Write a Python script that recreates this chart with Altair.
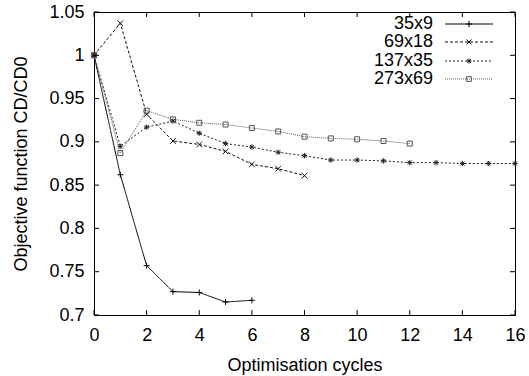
import altair as alt
import pandas as pd

FONT = "Liberation Sans"
FS = 18

series_names = ["35x9", "69x18", "137x35", "273x69"]

cycles_35x9 = [0, 1, 2, 3, 4, 5, 6]
cd_35x9 = [1.0, 0.862, 0.757, 0.727, 0.726, 0.715, 0.717]

cycles_69x18 = [0, 1, 2, 3, 4, 5, 6, 7, 8]
cd_69x18 = [1.0, 1.037, 0.932, 0.901, 0.897, 0.889, 0.874, 0.869, 0.861]

cycles_137x35 = list(range(0, 17))
cd_137x35 = [1.0, 0.895, 0.917, 0.924, 0.910, 0.898, 0.894, 0.888, 0.884,
             0.879, 0.879, 0.878, 0.876, 0.876, 0.875, 0.875, 0.875]

cycles_273x69 = list(range(0, 13))
cd_273x69 = [1.0, 0.887, 0.936, 0.926, 0.922, 0.920, 0.916, 0.912, 0.906,
             0.904, 0.903, 0.901, 0.898]

x_ticks = [0, 2, 4, 6, 8, 10, 12, 14, 16]
y_ticks = [0.7, 0.75, 0.8, 0.85, 0.9, 0.95, 1.0, 1.05]

colors = ["#000000", "#111111", "#222222", "#555555"]
dashes = [[1, 0], [3, 2], [2, 2], [1, 1]]
shapes = [
    "M-1,0L1,0M0,-1L0,1",
    "M-1,-1L1,1M-1,1L1,-1",
    "M-1,0L1,0M0,-1L0,1M-0.75,-0.75L0.75,0.75M-0.75,0.75L0.75,-0.75",
    "square",
]
sizes = [36, 25, 25, 22]

frames = []
for name, xs, ys in [
    ("35x9", cycles_35x9, cd_35x9),
    ("69x18", cycles_69x18, cd_69x18),
    ("137x35", cycles_137x35, cd_137x35),
    ("273x69", cycles_273x69, cd_273x69),
]:
    frames.append(pd.DataFrame({"cycle": xs, "cd": ys, "series": name}))
df = pd.concat(frames, ignore_index=True)

W, H = 421, 303
XMIN, XMAX, YMIN, YMAX = 0, 16, 0.7, 1.05

xscale = alt.Scale(domain=[XMIN, XMAX], nice=False, zero=False)
yscale = alt.Scale(domain=[YMIN, YMAX], nice=False, zero=False)

xaxis = alt.Axis(values=x_ticks, title="Optimisation cycles", grid=False, tickSize=0,
                 labelPadding=11, titlePadding=12, format="d",
                 labelFlush=False, labelOverlap=False)
yaxis = alt.Axis(values=y_ticks, title="Objective function CD/CD0", grid=False, tickSize=0,
                 labelPadding=10, titlePadding=18, format="~g",
                 labelFlush=False, labelOverlap=False)

color_enc = alt.Color("series:N", scale=alt.Scale(domain=series_names, range=colors), legend=None)
dash_enc = alt.StrokeDash("series:N", scale=alt.Scale(domain=series_names, range=dashes), legend=None)
shape_enc = alt.Shape("series:N", scale=alt.Scale(domain=series_names, range=shapes), legend=None)
size_enc = alt.Size("series:N", scale=alt.Scale(domain=series_names, range=sizes), legend=None)

base = alt.Chart(df)
lines = base.mark_line(strokeWidth=1).encode(
    x=alt.X("cycle:Q", scale=xscale, axis=xaxis),
    y=alt.Y("cd:Q", scale=yscale, axis=yaxis),
    color=color_enc,
    strokeDash=dash_enc,
    detail="series:N",
)
points = base.mark_point(filled=False, strokeWidth=1, opacity=1).encode(
    x=alt.X("cycle:Q", scale=xscale),
    y=alt.Y("cd:Q", scale=yscale),
    color=color_enc,
    shape=shape_enc,
    size=size_enc,
)

# inward ticks (gnuplot style), mirrored on all four sides
tick_px = 5
dx = (XMAX - XMIN) * tick_px / W
dy = (YMAX - YMIN) * tick_px / H
xt = pd.DataFrame({"v": x_ticks})
yt = pd.DataFrame({"v": y_ticks})
tick_layers = [
    alt.Chart(xt).mark_rule(color="black", strokeWidth=1).encode(
        x=alt.X("v:Q", scale=xscale), y=alt.datum(YMIN), y2=alt.datum(YMIN + dy)),
    alt.Chart(xt).mark_rule(color="black", strokeWidth=1).encode(
        x=alt.X("v:Q", scale=xscale), y=alt.datum(YMAX), y2=alt.datum(YMAX - dy)),
    alt.Chart(yt).mark_rule(color="black", strokeWidth=1).encode(
        y=alt.Y("v:Q", scale=yscale), x=alt.datum(XMIN), x2=alt.datum(XMIN + dx)),
    alt.Chart(yt).mark_rule(color="black", strokeWidth=1).encode(
        y=alt.Y("v:Q", scale=yscale), x=alt.datum(XMAX), x2=alt.datum(XMAX - dx)),
]

# gnuplot-style key: label, then line sample with marker
legend_layers = []
row_y = [12, 30, 49, 67]
for i, name in enumerate(series_names):
    one = pd.DataFrame({"series": [name]})
    legend_layers.append(alt.Chart(one).mark_text(
        align="right", baseline="middle", font=FONT, fontSize=FS, color="black").encode(
        x=alt.value(339), y=alt.value(row_y[i]), text="series:N"))
    legend_layers.append(alt.Chart(one).mark_rule(
        strokeWidth=1, color=colors[i], strokeDash=dashes[i]).encode(
        x=alt.value(351), x2=alt.value(399), y=alt.value(row_y[i])))
    legend_layers.append(alt.Chart(one).mark_point(
        filled=False, strokeWidth=1, opacity=1, color=colors[i], shape=shapes[i], size=sizes[i]).encode(
        x=alt.value(375), y=alt.value(row_y[i])))

chart = alt.layer(lines, points, *tick_layers, *legend_layers).properties(
    width=W, height=H,
    autosize=alt.AutoSizeParams(type="none"),
    padding={"left": 94, "top": 12, "right": 14, "bottom": 61},
    background="white",
).configure_view(stroke="black", strokeWidth=1).configure_axis(
    labelFont=FONT, labelFontSize=FS, labelColor="black",
    titleFont=FONT, titleFontSize=FS, titleColor="black", titleFontWeight="normal",
    domainColor="black", domainWidth=1,
)

chart.save("out.html", embed_options={"renderer": "svg", "actions": False})
